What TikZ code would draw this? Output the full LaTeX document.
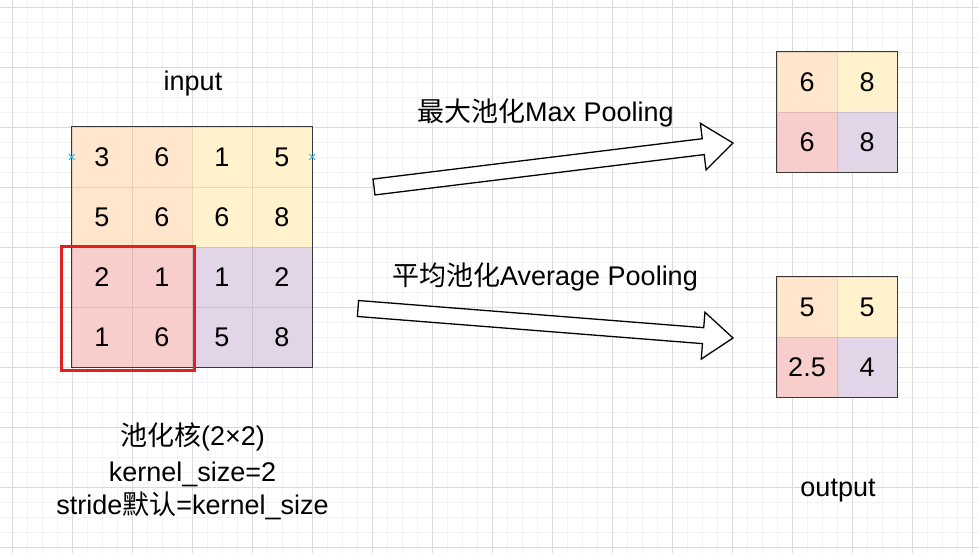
\documentclass[tikz,border=0pt]{standalone}
\usepackage{fontspec}
\setmainfont{Liberation Sans}
\newfontfamily\cjk{Noto Sans CJK SC}
\usetikzlibrary{calc}

\definecolor{poolorange}{HTML}{FFE6CC}
\definecolor{poolyellow}{HTML}{FFF2CC}
\definecolor{poolred}{HTML}{F8CECC}
\definecolor{poolpurple}{HTML}{E1D5E7}
\definecolor{gridmajor}{HTML}{DADADA}
\definecolor{gridminor}{HTML}{F3F3F3}
\definecolor{kernelred}{HTML}{E31F1F}
\definecolor{markblue}{HTML}{29B6F2}

\tikzset{
	every node/.style={font=\fontsize{27}{32.5}\selectfont, text=black},
	cell/.style={minimum size=60pt, inner sep=0pt, fill=#1, draw=#1!90!black, line width=0.6pt},
	boxline/.style={draw=black!78, line width=1.3pt},
	minorgrid/.style={draw=gridminor, line width=0.8pt},
	majorgrid/.style={draw=gridmajor, line width=0.8pt},
	kernel/.style={draw=kernelred, line width=2.6pt},
	markx/.style={draw=markblue, line width=0.9pt},
	blockarrow/.style={draw=black, line width=1.3pt, fill=white, line join=miter},
}

% block arrow from tail #1 to tip #2
\newcommand{\poolarrow}[2]{%
	\coordinate (#1-head) at ($(#2)!30pt!(#1)$);
	\draw[blockarrow]
		   ($(#1)!8pt!90:(#2)$)
		-- ($(#1-head)!8pt!-90:(#1)$)
		-- ($(#1-head)!23.5pt!-90:(#1)$)
		-- (#2)
		-- ($(#1-head)!23.5pt!90:(#1)$)
		-- ($(#1-head)!8pt!90:(#1)$)
		-- ($(#1)!8pt!-90:(#2)$)
		-- cycle;
}

\begin{document}
\begin{tikzpicture}[x=1pt, y=-1pt]
	\useasboundingbox (0,0) rectangle (979,553);
	% background grid
	\fill[white] (0,0) rectangle (979,553);
	\foreach \x in {12,27,...,972} \draw[minorgrid] (\x,0) -- (\x,553);
	\foreach \y in {7,22,...,547} \draw[minorgrid] (0,\y) -- (979,\y);
	\foreach \x in {12,72,...,972} \draw[majorgrid] (\x,0) -- (\x,553);
	\foreach \y in {7,67,...,547} \draw[majorgrid] (0,\y) -- (979,\y);

	% input 4x4
	\foreach \r/\c/\v/\f in {1/1/3/poolorange, 1/2/6/poolorange, 1/3/1/poolyellow, 1/4/5/poolyellow,
			2/1/5/poolorange, 2/2/6/poolorange, 2/3/6/poolyellow, 2/4/8/poolyellow,
			3/1/2/poolred, 3/2/1/poolred, 3/3/1/poolpurple, 3/4/2/poolpurple,
			4/1/1/poolred, 4/2/6/poolred, 4/3/5/poolpurple, 4/4/8/poolpurple}
		\node[cell=\f] (in\r\c) at (42+60*\c,97+60*\r) {\v};
	\draw[boxline] (in11.north west) rectangle (in44.south east);
	\node[anchor=base] (input) at (193,91) {input};

	% markers
	\draw[markx] ($(in11.west)+(-3,-3)$) -- ($(in11.west)+(3,3)$) ($(in11.west)+(-3,3)$) -- ($(in11.west)+(3,-3)$);
	\draw[markx] ($(in14.east)+(-3,-3)$) -- ($(in14.east)+(3,3)$) ($(in14.east)+(-3,3)$) -- ($(in14.east)+(3,-3)$);

	% kernel window
	\draw[kernel] ($(in31.north west)+(-10,0)$) rectangle ($(in42.south east)+(2,3)$);

	% kernel text
	\node[anchor=base, align=center] (kerneltext) at (192.5,514)
		{{\cjk 池化核}(2×2)\\[4pt]kernel\_size=2\\stride{\cjk 默认}=kernel\_size};

	% max pooling output
	\node[cell=poolorange] (max11) at (807,82) {6};
	\node[cell=poolyellow] (max12) at (867,82) {8};
	\node[cell=poolred] (max21) at (807,142) {6};
	\node[cell=poolpurple] (max22) at (867,142) {8};
	\draw[boxline] (max11.north west) rectangle (max22.south east);

	% average pooling output
	\node[cell=poolorange] (avg11) at (807,307) {5};
	\node[cell=poolyellow] (avg12) at (867,307) {5};
	\node[cell=poolred] (avg21) at (807,367) {2.5};
	\node[cell=poolpurple] (avg22) at (867,367) {4};
	\draw[boxline] (avg11.north west) rectangle (avg22.south east);
	\node[anchor=base] (output) at (838,496) {output};

	% arrows
	\coordinate (maxtail) at (374,187);
	\coordinate (maxtip) at (733,143);
	\coordinate (avgtail) at (358,308.5);
	\coordinate (avgtip) at (733,338);
	\poolarrow{maxtail}{maxtip}
	\poolarrow{avgtail}{avgtip}
	\node[anchor=base] (maxlabel) at (545.5,122) {{\cjk 最大池化}Max Pooling};
	\node[anchor=base] (avglabel) at (545,285) {{\cjk 平均池化}Average Pooling};
\end{tikzpicture}
\end{document}
